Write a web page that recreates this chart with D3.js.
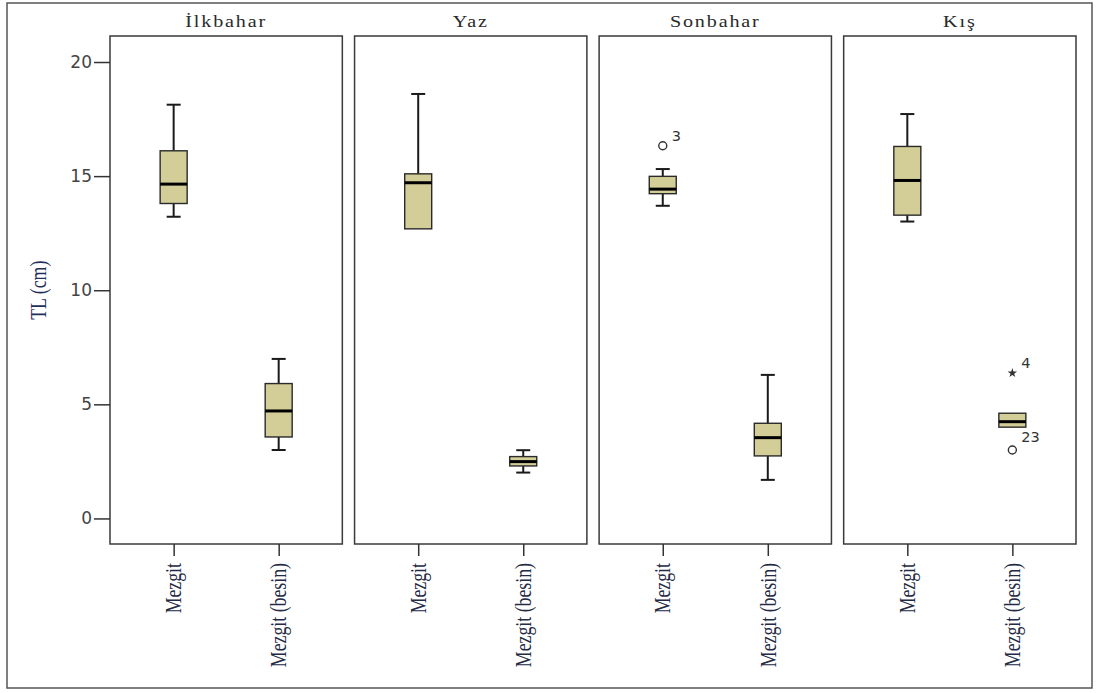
<!DOCTYPE html>
<html>
<head>
<meta charset="utf-8">
<script src="https://cdn.jsdelivr.net/npm/d3@7"></script>
<style>
  html, body { margin: 0; padding: 0; background: #fff; }
  svg { display: block; }
</style>
</head>
<body>
<svg id="chart" width="1096" height="693"></svg>
<script>
// ---------- DATA ----------
const seasons = ["İlkbahar", "Yaz", "Sonbahar", "Kış"];
const groups = ["Mezgit", "Mezgit (besin)"];
// boxes ordered: season-major, group-minor
const boxSeason = ["İlkbahar", "İlkbahar", "Yaz", "Yaz", "Sonbahar", "Sonbahar", "Kış", "Kış"];
const boxGroup = ["Mezgit", "Mezgit (besin)", "Mezgit", "Mezgit (besin)", "Mezgit", "Mezgit (besin)", "Mezgit", "Mezgit (besin)"];
const lowWhisker  = [13.22, 3.00, 12.69, 2.01, 13.70, 1.69, 13.01, 4.00];
const q1          = [13.80, 3.57, 12.69, 2.30, 14.23, 2.74, 13.29, 4.00];
const median      = [14.65, 4.71, 14.71, 2.49, 14.43, 3.54, 14.81, 4.24];
const q3          = [16.11, 5.91, 15.10, 2.71, 14.99, 4.17, 16.30, 4.61];
const highWhisker = [18.13, 6.99, 18.60, 2.99, 15.31, 6.29, 17.72, 4.61];

const outlierSeason = ["Sonbahar", "Kış", "Kış"];
const outlierGroup  = ["Mezgit", "Mezgit (besin)", "Mezgit (besin)"];
const outlierValue  = [16.33, 6.37, 3.00];
const outlierLabel  = ["3", "4", "23"];
const outlierType   = ["circle", "star", "circle"];

const yTicks = [0, 5, 10, 15, 20];
const yLabel = "TL (cm)";

// ---------- LAYOUT ----------
const svg = d3.select("#chart");
const plotTop = 36, plotBottom = 544;
const stretch = 1.15;
const rotStretch = 1.25;
const serif = "'Liberation Serif', 'Times New Roman', serif";
const sans = "'DejaVu Sans', Verdana, sans-serif";

// outer frame
svg.append("rect").attr("x", 7).attr("y", 3).attr("width", 1085).attr("height", 685)
  .attr("fill", "none").attr("stroke", "#555").attr("stroke-width", 1.5);

const panel = d3.scaleBand().domain(seasons).range([110, 1076]).paddingInner(0.05);
const y = d3.scaleLinear().domain([-1.12, 21.14]).range([plotBottom, plotTop]);

const boxW = 27, capW = 14;
const boxFill = "#D3CE98";

seasons.forEach(s => {
  const x0 = panel(s);
  const g = svg.append("g").attr("transform", `translate(${x0},0)`);
  const xs = d3.scalePoint().domain(groups).range([0, panel.bandwidth()]).padding(0.606);

  // panel border
  g.append("rect").attr("x", 0).attr("y", plotTop).attr("width", panel.bandwidth()).attr("height", plotBottom - plotTop)
    .attr("fill", "none").attr("stroke", "#3a3a3a").attr("stroke-width", 1.5);

  // title
  g.append("text")
    .attr("transform", `translate(${panel.bandwidth() / 2},27) scale(${stretch},1)`)
    .attr("text-anchor", "middle")
    .attr("letter-spacing", 1.6)
    .attr("font-family", serif).attr("font-size", 17.5).attr("fill", "#2a2a2a")
    .text(s);

  // x ticks
  const xAxis = d3.axisBottom(xs).tickSize(12).tickFormat("");
  const xg = g.append("g").attr("transform", `translate(0,${plotBottom})`).call(xAxis);
  xg.select(".domain").remove();
  xg.selectAll(".tick line").attr("stroke", "#333").attr("stroke-width", 1.5);

  // x labels (rotated)
  groups.forEach(gr => {
    g.append("text")
      .attr("transform", `translate(${xs(gr)},563) scale(${rotStretch},1) rotate(-90)`)
      .attr("text-anchor", "end")
      .attr("dominant-baseline", "central")
      .attr("font-family", serif).attr("font-size", 17.8).attr("fill", "#232a44")
      .text(gr);
  });

  // boxes
  boxSeason.forEach((bs, i) => {
    if (bs !== s) return;
    const cx = xs(boxGroup[i]);
    const bg = g.append("g");
    // whiskers
    if (highWhisker[i] > q3[i]) {
      bg.append("line").attr("x1", cx).attr("x2", cx).attr("y1", y(q3[i])).attr("y2", y(highWhisker[i]))
        .attr("stroke", "#1a1a1a").attr("stroke-width", 2);
      bg.append("line").attr("x1", cx - capW / 2).attr("x2", cx + capW / 2)
        .attr("y1", y(highWhisker[i])).attr("y2", y(highWhisker[i]))
        .attr("stroke", "#1a1a1a").attr("stroke-width", 2);
    }
    if (lowWhisker[i] < q1[i]) {
      bg.append("line").attr("x1", cx).attr("x2", cx).attr("y1", y(q1[i])).attr("y2", y(lowWhisker[i]))
        .attr("stroke", "#1a1a1a").attr("stroke-width", 2);
      bg.append("line").attr("x1", cx - capW / 2).attr("x2", cx + capW / 2)
        .attr("y1", y(lowWhisker[i])).attr("y2", y(lowWhisker[i]))
        .attr("stroke", "#1a1a1a").attr("stroke-width", 2);
    }
    // box
    bg.append("rect").attr("x", cx - boxW / 2).attr("y", y(q3[i]))
      .attr("width", boxW).attr("height", y(q1[i]) - y(q3[i]))
      .attr("fill", boxFill).attr("stroke", "#2a2a2a").attr("stroke-width", 1.4);
    // median
    bg.append("line").attr("x1", cx - boxW / 2).attr("x2", cx + boxW / 2)
      .attr("y1", y(median[i])).attr("y2", y(median[i]))
      .attr("stroke", "#000").attr("stroke-width", 3);
  });

  // outliers
  outlierSeason.forEach((os, i) => {
    if (os !== s) return;
    const cx = xs(outlierGroup[i]);
    const cy = y(outlierValue[i]);
    if (outlierType[i] === "circle") {
      g.append("circle").attr("cx", cx).attr("cy", cy).attr("r", 4)
        .attr("fill", "none").attr("stroke", "#333").attr("stroke-width", 1.4);
    } else {
      g.append("path").attr("transform", `translate(${cx},${cy})`)
        .attr("d", d3.symbol(d3.symbolStar, 28)())
        .attr("fill", "#333");
    }
    g.append("text").attr("x", cx + 9).attr("y", cy - (outlierType[i] === "circle" && outlierValue[i] < 5 ? 8 : 5))
      .attr("font-family", sans).attr("font-size", 14.5).attr("fill", "#333")
      .text(outlierLabel[i]);
  });
});

// y axis on first panel
const yAxis = d3.axisLeft(y).tickValues(yTicks).tickSize(16).tickPadding(2);
const yg = svg.append("g").attr("transform", `translate(${panel(seasons[0])},0)`).call(yAxis);
yg.select(".domain").remove();
yg.selectAll(".tick line").attr("stroke", "#333").attr("stroke-width", 1.5);
yg.selectAll(".tick text").attr("font-family", sans).attr("font-size", 17).attr("fill", "#444");

// y label
svg.append("text")
  .attr("transform", `translate(38,${y(10)}) scale(${rotStretch},1) rotate(-90)`)
  .attr("text-anchor", "middle")
  .attr("dominant-baseline", "central")
  .attr("font-family", serif).attr("font-size", 17.8).attr("fill", "#1f2f5a")
  .text(yLabel);
</script>
</body>
</html>
